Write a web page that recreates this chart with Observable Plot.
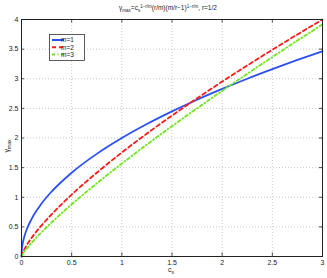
<!DOCTYPE html>
<html><head><meta charset="utf-8">
<script src="https://cdn.jsdelivr.net/npm/d3@7"></script>
<script src="https://cdn.jsdelivr.net/npm/@observablehq/plot@0.6"></script>
<style>body{margin:0;background:#fff}</style>
</head><body><div id="chart"></div>
<script>
const cs = [0, 0.005, 0.01, 0.02, 0.05, 0.1, 0.2, 0.3, 0.5, 0.75, 1, 1.25, 1.5, 1.75, 2, 2.25, 2.5, 2.75, 3];
const m1 = [0, 0.141, 0.2, 0.283, 0.447, 0.632, 0.894, 1.095, 1.414, 1.732, 2.0, 2.236, 2.449, 2.646, 2.828, 3.0, 3.162, 3.317, 3.464];
const m2 = [0, 0.033, 0.056, 0.093, 0.186, 0.312, 0.525, 0.711, 1.044, 1.414, 1.755, 2.075, 2.379, 2.670, 2.952, 3.224, 3.489, 3.748, 4.0];
const m3 = [0, 0.019, 0.034, 0.061, 0.129, 0.230, 0.410, 0.575, 0.881, 1.234, 1.569, 1.890, 2.200, 2.501, 2.796, 3.084, 3.367, 3.645, 3.919];
const seriesNames = ["m=1", "m=2", "m=3"];
const xTicks = [0, 0.5, 1, 1.5, 2, 2.5, 3];
const yTicks = [0, 0.5, 1, 1.5, 2, 2.5, 3, 3.5, 4];

const colors = ["#2b50f8", "#ff1a1a", "#6ee81a"];
const dashes = [null, "4,3", "3,2.5,1,2.5"];
const seriesVals = [m1, m2, m3];
const rows = [];
seriesVals.forEach((vals, i) => vals.forEach((v, j) => rows.push({c: cs[j], g: v, s: seriesNames[i]})));

const W = 327, H = 278;
const font = "Liberation Sans, Arial, sans-serif";
const fmt = d => String(d);
const plot = Plot.plot({
  width: W, height: H,
  marginLeft: 21, marginRight: 5, marginTop: 19, marginBottom: 22,
  style: {fontFamily: font, fontSize: "7px", color: "#222", background: "#fff"},
  x: {domain: [0, 3], label: null},
  y: {domain: [0, 4], label: null},
  marks: [
    Plot.ruleX(xTicks.slice(1, -1), {stroke: "#bbb", strokeDasharray: "1,2", strokeWidth: 0.8}),
    Plot.ruleY(yTicks.slice(1, -1), {stroke: "#bbb", strokeDasharray: "1,2", strokeWidth: 0.8}),
    Plot.ruleX(xTicks, {y1: 0, y2: 0.06, stroke: "#222", strokeWidth: 0.8}),
    Plot.ruleX(xTicks, {y1: 3.94, y2: 4, stroke: "#222", strokeWidth: 0.8}),
    Plot.ruleY(yTicks, {x1: 0, x2: 0.03, stroke: "#222", strokeWidth: 0.8}),
    Plot.ruleY(yTicks, {x1: 2.97, x2: 3, stroke: "#222", strokeWidth: 0.8}),
    Plot.axisX(xTicks, {tickSize: 0, tickPadding: 4, fontSize: 7, fill: "#222", tickFormat: fmt, label: null}),
    Plot.axisY(yTicks, {tickSize: 0, tickPadding: 3, fontSize: 7, fill: "#222", tickFormat: fmt, label: null}),
    ...seriesNames.map((name, i) => Plot.line(rows.filter(r => r.s === name), {
      x: "c", y: "g", stroke: colors[i], strokeWidth: 1.8, curve: "monotone-x",
      strokeDasharray: dashes[i] || undefined
    })),
    Plot.frame({stroke: "#222", strokeWidth: 1})
  ]
});
document.getElementById("chart").appendChild(plot);

const svg = d3.select(plot);
// title
const t = svg.append("text").attr("x", 168).attr("y", 10).attr("text-anchor", "middle")
  .attr("font-family", font).attr("font-size", 6.5).attr("fill", "#222");
t.append("tspan").text("γ");
t.append("tspan").attr("font-size", 4.5).attr("dy", 1.5).text("max");
t.append("tspan").attr("dy", -1.5).text("=c");
t.append("tspan").attr("font-size", 4.5).attr("dy", 1.5).text("s");
t.append("tspan").attr("font-size", 4.5).attr("dy", -4).text("1−r/m");
t.append("tspan").attr("dy", 2.5).text("(r/m)(m/r−1)");
t.append("tspan").attr("font-size", 4.5).attr("dy", -2.5).text("1−r/m");
t.append("tspan").attr("dy", 2.5).text(", r=1/2");

// y label
const yl = svg.append("text").attr("transform", "translate(9,146) rotate(-90)").attr("text-anchor", "middle")
  .attr("font-family", font).attr("font-size", 7).attr("fill", "#222");
yl.append("tspan").text("γ");
yl.append("tspan").attr("font-size", 5).attr("dy", 1.8).text("max");

// x label
const xl = svg.append("text").attr("x", 171).attr("y", 272).attr("text-anchor", "middle")
  .attr("font-family", font).attr("font-size", 7).attr("fill", "#222");
xl.append("tspan").text("c");
xl.append("tspan").attr("font-size", 5).attr("dy", 1.8).text("s");

// legend
const lg = svg.append("g");
lg.append("rect").attr("x", 49.5).attr("y", 34.5).attr("width", 35).attr("height", 26)
  .attr("fill", "#fff").attr("stroke", "#333").attr("stroke-width", 0.8);
seriesNames.forEach((name, i) => {
  const yy = 40 + i * 7.2;
  lg.append("line").attr("x1", 52).attr("x2", 64).attr("y1", yy).attr("y2", yy)
    .attr("stroke", colors[i]).attr("stroke-width", 2).attr("stroke-dasharray", dashes[i]);
  lg.append("text").attr("x", 67.5).attr("y", yy + 2.3).attr("font-family", font)
    .attr("font-size", 6.5).attr("fill", "#222").text(name);
});
</script></body></html>
